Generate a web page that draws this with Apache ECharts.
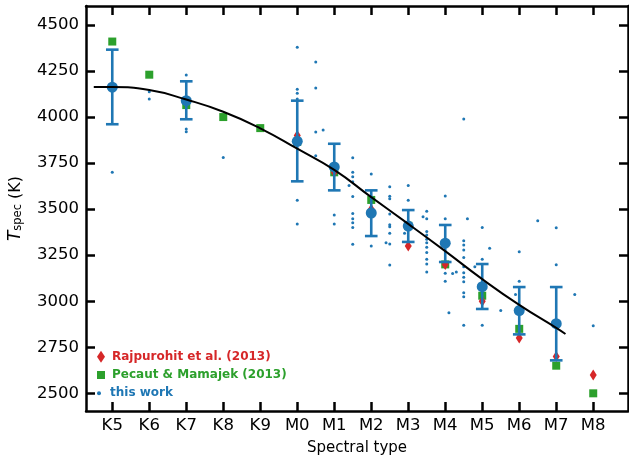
<!DOCTYPE html>
<html>
<head>
<meta charset="utf-8">
<script src="https://cdn.jsdelivr.net/npm/echarts@6/dist/echarts.min.js"></script>
<style>html,body{margin:0;padding:0;background:#fff;}#c{width:629px;height:457px;}</style>
</head>
<body>
<div id="c"></div>
<script>
// ---- data ----
var categories = ['K5','K6','K7','K8','K9','M0','M1','M2','M3','M4','M5','M6','M7','M8'];
var xTicks = [0,1,2,3,4,5,6,7,8,9,10,11,12,13];
var yTicks = [2500,2750,3000,3250,3500,3750,4000,4250,4500];

// this work: mean per spectral type with error bars
var meanX    = [0, 2, 5, 6, 7, 8, 9, 10, 11, 12];
var meanT    = [4162, 4089, 3868, 3729, 3479, 3408, 3315, 3079, 2949, 2878];
var errLow   = [3961, 3988, 3651, 3602, 3354, 3322, 3213, 2958, 2820, 2679];
var errHigh  = [4366, 4194, 4089, 3855, 3602, 3495, 3414, 3202, 3077, 3077];

// Rajpurohit et al. (2013)
var rajX = [5, 6, 7, 8, 9, 10, 11, 12, 13];
var rajT = [3900, 3700, 3500, 3300, 3200, 3000, 2800, 2700, 2600];

// Pecaut & Mamajek (2013)
var pmX = [0, 1, 2, 3, 4, 5, 6, 7, 8, 9, 10, 11, 12, 13];
var pmT = [4410, 4230, 4065, 4000, 3940, 3865, 3700, 3550, 3410, 3200, 3030, 2850, 2650, 2500];

// this work: individual stars
var starX = [0, 1, 1, 2, 2, 2, 3,
  5, 5, 5, 5, 5, 5,
  5.5, 5.5, 5.5, 5.5, 5.7,
  6, 6, 6.4,
  6.5, 6.5, 6.5, 6.5, 6.5, 6.5, 6.5, 6.5, 6.5, 6.5,
  7, 7, 7.4,
  7.5, 7.5, 7.5, 7.5, 7.5, 7.5, 7.5, 7.5, 7.5,
  8, 8, 7.9, 8.4,
  8.5, 8.5, 8.5, 8.5, 8.5, 8.5, 8.5, 8.5, 8.5, 8.5, 8.5,
  9, 9, 9, 9, 9.1, 9.2, 9.3,
  9.5, 9.5, 9.5, 9.5, 9.5, 9.5, 9.5, 9.5, 9.5, 9.5, 9.5, 9.5,
  9.6, 9.8,
  10, 10, 10, 10.2, 10.5, 10.9,
  11, 11, 11, 11.5,
  12, 12, 12.5, 13];
var starT = [3700, 4138, 4098, 4229, 3935, 3920, 3780,
  4379, 4151, 4129, 4098, 3548, 3419,
  4299, 4158, 3919, 3790, 3930,
  3468, 3419, 3629,
  3779, 3700, 3676, 3649, 3568, 3477, 3448, 3426, 3401, 3309,
  3691, 3300, 3318,
  3622, 3570, 3557, 3473, 3415, 3405, 3369, 3311, 3197,
  3629, 3548, 3369, 3459,
  3488, 3448, 3378, 3360, 3336, 3318, 3293, 3264, 3228, 3202, 3159,
  3571, 3448, 3152, 3108, 2938, 3150, 3159,
  3990, 3329, 3305, 3278, 3238, 3187, 3155, 3130, 3106, 3046, 3025, 2869,
  3448, 3187,
  3401, 3228, 2869, 3287, 2949, 3037,
  3269, 3108, 2853, 3437,
  3399, 3198, 3037, 2867];

// fitted relation (black curve)
var fitX = [-0.5, 0, 1, 2, 3, 4, 5, 6, 7, 8, 9, 10, 11, 12, 12.25];
var fitT = [4163, 4163, 4147, 4095, 4029, 3939, 3828, 3713, 3565, 3420, 3272, 3120, 2980, 2855, 2822];

// ---- chart ----
var RED = '#d62728', GREEN = '#2ca02c', BLUE = '#1f77b4';
function zip(a, b) { return a.map(function (v, i) { return [v, b[i]]; }); }

var chart = echarts.init(document.getElementById('c'), null, {renderer: 'canvas'});
var axisLine = {show: true, onZero: false, lineStyle: {color: '#000', width: 2.5}};
function tick(vals) { return {show: true, inside: true, length: 9, customValues: vals, lineStyle: {color: '#000', width: 2.5}}; }
var XMIN = -0.71, XMAX = 13.94, YMIN = 2404, YMAX = 4603;

var option = {
  animation: false,
  textStyle: {fontFamily: 'DejaVu Sans'},
  grid: {left: 86, right: 1, top: 6, bottom: 46, containLabel: false, outerBoundsMode: 'none'},
  xAxis: [{
    type: 'value', position: 'bottom', min: XMIN, max: XMAX,
    axisLine: axisLine, axisTick: tick(xTicks), splitLine: {show: false},
    axisLabel: {show: true, customValues: xTicks, color: '#000', fontSize: 16.5, margin: 6,
      formatter: function (v) { return categories[Math.round(v)]; }},
    name: 'Spectral type', nameLocation: 'middle', nameGap: 30,
    nameTextStyle: {color: '#000', fontSize: 15}
  }, {
    type: 'value', position: 'top', min: XMIN, max: XMAX,
    axisLine: axisLine, axisTick: tick(xTicks), splitLine: {show: false},
    axisLabel: {show: false}
  }],
  yAxis: [{
    type: 'value', position: 'left', min: YMIN, max: YMAX,
    axisLine: axisLine, axisTick: tick(yTicks), splitLine: {show: false},
    axisLabel: {show: true, customValues: yTicks, color: '#000', fontSize: 16.5, margin: 7,
      formatter: function (v) { return String(v); }},
    name: '{t|T}{s|spec} {k|(K)}', nameLocation: 'middle', nameGap: 62, nameRotate: 90,
    nameTextStyle: {color: '#000', fontSize: 16,
      rich: {
        t: {fontSize: 17, fontStyle: 'italic', color: '#000', lineHeight: 20, verticalAlign: 'bottom'},
        s: {fontSize: 11.5, color: '#000', lineHeight: 11, verticalAlign: 'bottom'},
        k: {fontSize: 16, color: '#000', lineHeight: 20, verticalAlign: 'bottom'}
      }}
  }, {
    type: 'value', position: 'right', min: YMIN, max: YMAX,
    axisLine: axisLine, axisTick: tick(yTicks), splitLine: {show: false},
    axisLabel: {show: false}
  }],
  legend: [
    {left: 97, top: 350.7, padding: 0, itemWidth: 8, itemHeight: 12, selectedMode: false,
      data: [{name: 'Rajpurohit et al. (2013)', icon: 'diamond'}],
      textStyle: {color: RED, fontWeight: 'bold', fontSize: 12, padding: [0, 0, 0, 2]}},
    {left: 97, top: 369, padding: 0, itemWidth: 8, itemHeight: 8, selectedMode: false,
      data: [{name: 'Pecaut & Mamajek (2013)', icon: 'rect'}],
      textStyle: {color: GREEN, fontWeight: 'bold', fontSize: 12, padding: [0, 0, 0, 2]}},
    {left: 97, top: 387.3, padding: 0, itemWidth: 8, itemHeight: 4, selectedMode: false,
      data: [{name: 'this work', icon: 'circle'}],
      textStyle: {color: BLUE, fontWeight: 'bold', fontSize: 12, padding: [0, 0, 0, 2]}}
  ],
  series: [
    {name: 'this work', type: 'scatter', z: 1, symbol: 'circle', symbolSize: 3,
      itemStyle: {color: BLUE, opacity: 1}, data: zip(starX, starT)},
    {name: 'Pecaut & Mamajek (2013)', type: 'scatter', z: 2, symbol: 'rect', symbolSize: 8,
      itemStyle: {color: GREEN, opacity: 1}, data: zip(pmX, pmT)},
    {name: 'Rajpurohit et al. (2013)', type: 'scatter', z: 3, symbol: 'diamond', symbolSize: [7, 11],
      itemStyle: {color: RED, opacity: 1}, data: zip(rajX, rajT)},
    {name: 'errbar', type: 'custom', z: 4,
      data: meanX.map(function (x, i) { return [x, errLow[i], errHigh[i]]; }),
      encode: {x: 0, y: [1, 2]},
      renderItem: function (params, api) {
        var x = api.value(0);
        var lo = api.coord([x, api.value(1)]);
        var hi = api.coord([x, api.value(2)]);
        var hw = 6.3;
        var st = {stroke: BLUE, lineWidth: 2.6, fill: null};
        return {type: 'group', children: [
          {type: 'line', shape: {x1: lo[0], y1: lo[1], x2: hi[0], y2: hi[1]}, style: st},
          {type: 'line', shape: {x1: lo[0] - hw, y1: lo[1], x2: lo[0] + hw, y2: lo[1]}, style: st},
          {type: 'line', shape: {x1: hi[0] - hw, y1: hi[1], x2: hi[0] + hw, y2: hi[1]}, style: st}
        ]};
      }},
    {name: 'mean', type: 'scatter', z: 5, symbol: 'circle', symbolSize: 11,
      itemStyle: {color: BLUE, opacity: 1}, data: zip(meanX, meanT)},
    {name: 'fit', type: 'line', z: 6, smooth: true, showSymbol: false, symbol: 'none',
      lineStyle: {color: '#000', width: 2}, data: zip(fitX, fitT)}
  ]
};
chart.setOption(option);
</script>
</body>
</html>
